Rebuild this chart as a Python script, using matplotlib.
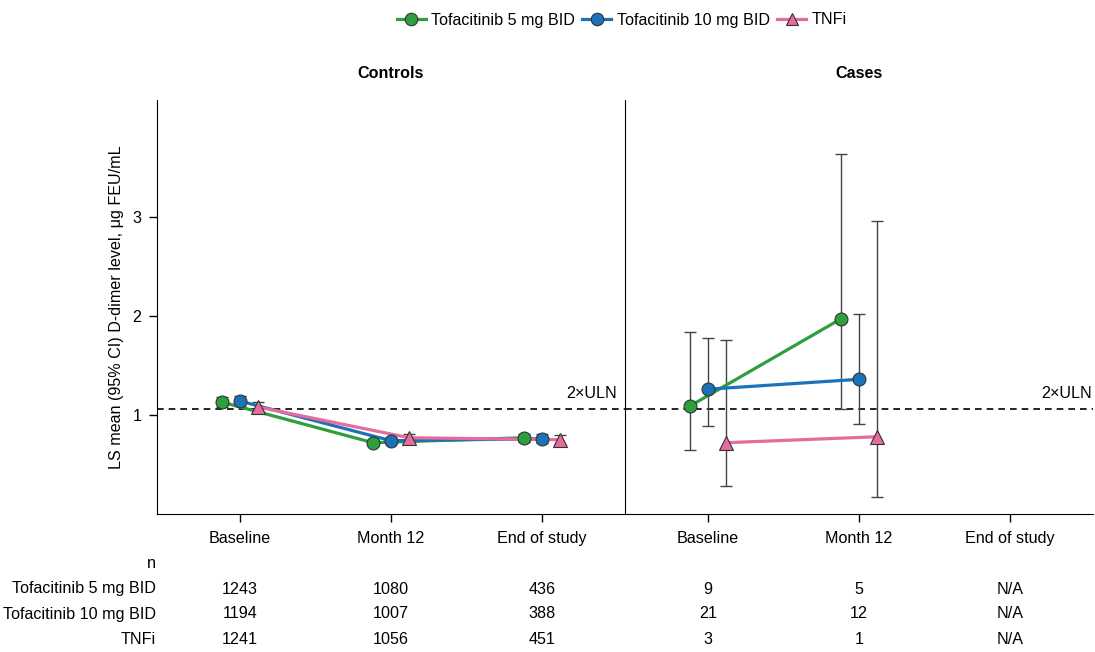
import matplotlib
matplotlib.use("Agg")
import matplotlib.pyplot as plt
import matplotlib.transforms as mtransforms
from matplotlib.lines import Line2D
import numpy as np

plt.rcParams['font.family'] = ['Liberation Sans', 'DejaVu Sans']
FS = 11.6

timepoints = ["Baseline", "Month 12", "End of study"]
groups = ["Tofacitinib 5 mg BID", "Tofacitinib 10 mg BID", "TNFi"]
colors = ["#2f9e3c", "#1c72b8", "#e66b9e"]
markers = ["o", "o", "^"]

# Controls: LS mean, lower CI, upper CI
ctrl_tofa5 = [1.13, 0.72, 0.77]
ctrl_tofa5_lo = [1.08, 0.70, 0.73]
ctrl_tofa5_hi = [1.18, 0.75, 0.81]
ctrl_tofa10 = [1.14, 0.74, 0.76]
ctrl_tofa10_lo = [1.09, 0.72, 0.72]
ctrl_tofa10_hi = [1.19, 0.77, 0.81]
ctrl_tnfi = [1.08, 0.77, 0.75]
ctrl_tnfi_lo = [1.04, 0.74, 0.71]
ctrl_tnfi_hi = [1.13, 0.81, 0.80]

# Cases (End of study N/A)
case_tofa5 = [1.09, 1.97]
case_tofa5_lo = [0.65, 1.06]
case_tofa5_hi = [1.84, 3.63]
case_tofa10 = [1.26, 1.36]
case_tofa10_lo = [0.89, 0.91]
case_tofa10_hi = [1.78, 2.02]
case_tnfi = [0.72, 0.78]
case_tnfi_lo = [0.28, 0.17]
case_tnfi_hi = [1.76, 2.96]

uln2 = 1.06

n_ctrl = {"Tofacitinib 5 mg BID": ["1243", "1080", "436"],
          "Tofacitinib 10 mg BID": ["1194", "1007", "388"],
          "TNFi": ["1241", "1056", "451"]}
n_case = {"Tofacitinib 5 mg BID": ["9", "5", "N/A"],
          "Tofacitinib 10 mg BID": ["21", "12", "N/A"],
          "TNFi": ["3", "1", "N/A"]}

fig = plt.figure(figsize=(10.95, 6.52), dpi=100)
L, R, B, T = 157/1095, 1093/1095, 1 - 514/652, 1 - 100/652
W = (R - L) / 2
ax1 = fig.add_axes([L, B, W, T - B])
ax2 = fig.add_axes([L + W, B, W, T - B])

offsets = [-0.12, 0.0, 0.12]
ctrl = [(ctrl_tofa5, ctrl_tofa5_lo, ctrl_tofa5_hi),
        (ctrl_tofa10, ctrl_tofa10_lo, ctrl_tofa10_hi),
        (ctrl_tnfi, ctrl_tnfi_lo, ctrl_tnfi_hi)]
case = [(case_tofa5, case_tofa5_lo, case_tofa5_hi),
        (case_tofa10, case_tofa10_lo, case_tofa10_hi),
        (case_tnfi, case_tnfi_lo, case_tnfi_hi)]

for k, (ax, data) in enumerate([(ax1, ctrl), (ax2, case)]):
    ax.axhline(uln2, color='black', lw=1.2, ls=(0, (4, 3)), zorder=1)
    for i, (m, lo, hi) in enumerate(data):
        m = np.array(m); lo = np.array(lo); hi = np.array(hi)
        x = np.arange(len(m)) + offsets[i]
        ax.errorbar(x, m, yerr=[m - lo, hi - m], fmt='none', ecolor='#444444',
                    elinewidth=1.0, capsize=4, capthick=1.0, zorder=2)
    for i, (m, lo, hi) in enumerate(data):
        x = np.arange(len(m)) + offsets[i]
        ax.plot(x, m, color=colors[i], lw=2.3, zorder=3)
    for i, (m, lo, hi) in enumerate(data):
        x = np.arange(len(m)) + offsets[i]
        ax.plot(x, m, ls='none', marker=markers[i], ms=9.3 if markers[i] == 'o' else 9.8,
                mfc=colors[i], mec='#333333', mew=0.8, zorder=4)
    ax.set_xlim(-0.55, 2.55)
    ax.set_ylim(0, 4.18)
    ax.set_xticks(range(3))
    ax.set_xticklabels(timepoints, fontsize=FS)
    ax.tick_params(axis='x', length=6, width=1, pad=6)
    ax.spines['top'].set_visible(False)
    ax.spines['right'].set_visible(False)
    ax.text(0.982 if k == 0 else 0.998, uln2 + 0.08, "2\u00d7ULN",
            transform=mtransforms.blended_transform_factory(ax.transAxes, ax.transData),
            ha='right', va='bottom', fontsize=FS)

ax1.set_yticks([1, 2, 3])
ax1.set_yticklabels(["1", "2", "3"], fontsize=FS)
ax1.tick_params(axis='y', length=6, width=1, pad=5)
ax1.set_ylabel("LS mean (95% CI) D-dimer level, \u03bcg FEU/mL", fontsize=FS, labelpad=6)
ax2.set_yticks([])

ax1.set_title("Controls", fontsize=FS, fontweight='bold', pad=16)
ax2.set_title("Cases", fontsize=FS, fontweight='bold', pad=16)

# n table
row_y = [1 - 563/652, 1 - 589/652, 1 - 614/652, 1 - 640/652]
fig.text(L - 0.001, row_y[0], "n", ha='right', va='center', fontsize=FS)
for r, g in enumerate(groups):
    y = row_y[r + 1]
    fig.text(L - 0.001, y, g, ha='right', va='center', fontsize=FS)
    for ax, tbl in [(ax1, n_ctrl), (ax2, n_case)]:
        tr = mtransforms.blended_transform_factory(ax.transData, fig.transFigure)
        for j, v in enumerate(tbl[g]):
            fig.text(j, y, v, transform=tr, ha='center', va='center', fontsize=FS)

handles = [Line2D([], [], color=colors[i], lw=2.3, marker=markers[i], ms=9,
                  mfc=colors[i], mec='#333333', mew=0.8) for i in range(3)]
fig.legend(handles, groups, loc='center', bbox_to_anchor=(0.568, 1 - 20/652), ncol=3,
           frameon=False, fontsize=FS, handlelength=1.8, handletextpad=0.35,
           columnspacing=0.45, borderaxespad=0)

fig.savefig("out.png", dpi=100)
